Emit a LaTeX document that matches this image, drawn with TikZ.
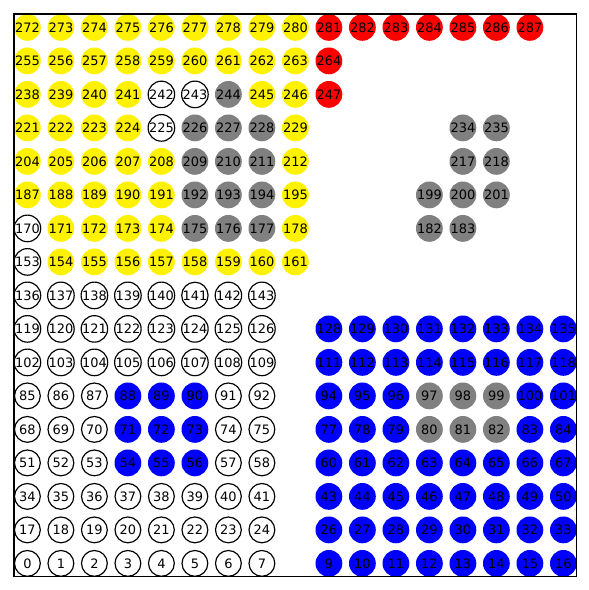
\documentclass[tikz,border=0pt]{standalone}
\usepackage{fontspec}
\setmainfont{DejaVu Sans}
\definecolor{mplgray}{HTML}{808080}
\begin{document}
\begin{tikzpicture}[x=1cm,y=1cm,
  cell/.style={circle,minimum size=0.8cm,inner sep=0pt,text=black,font=\fontsize{11}{13}\selectfont},
  wc/.style={cell,draw=black,line width=1pt,fill=white,minimum size=0.77cm},
  yc/.style={cell,fill=yellow},
  gc/.style={cell,fill=mplgray},
  rc/.style={cell,fill=red},
  bc/.style={cell,fill=blue},
  frame/.style={draw=black,line width=0.9pt}]
\useasboundingbox (-0.818,-0.794) rectangle (16.764,16.818);
\newcommand{\cellrow}[2]{%
  \foreach \n in {#2} {%
    \pgfmathtruncatemacro{\cc}{mod(\n,17)}%
    \pgfmathtruncatemacro{\rr}{div(\n,17)}%
    \node[#1] (c\n) at (\cc,\rr) {\n};
  }}
\cellrow{wc}{0,1,2,3,4,5,6,7,17,18,19,20,21,22,23,24,34,35,36,37,38,39,40,41,51,52,53,57,58,68,69,70,74,75,85,86,87,91,92,102,103,104,105,106,107,108,109,119,120,121,122,123,124,125,126,136,137,138,139,140,141,142,143,153,170,225,242,243}
\cellrow{yc}{154,155,156,157,158,159,160,161,171,172,173,174,178,187,188,189,190,191,195,204,205,206,207,208,212,221,222,223,224,229,238,239,240,241,245,246,255,256,257,258,259,260,261,262,263,272,273,274,275,276,277,278,279,280}
\cellrow{gc}{80,81,82,97,98,99,175,176,177,182,183,192,193,194,199,200,201,209,210,211,217,218,226,227,228,234,235,244}
\cellrow{rc}{247,264,281,282,283,284,285,286,287}
\cellrow{bc}{9,10,11,12,13,14,15,16,26,27,28,29,30,31,32,33,43,44,45,46,47,48,49,50,54,55,56,60,61,62,63,64,65,66,67,71,72,73,77,78,79,83,84,88,89,90,94,95,96,100,101,111,112,113,114,115,116,117,118,128,129,130,131,132,133,134,135}
\node[frame,rectangle,minimum width=16.8cm,minimum height=16.8cm,inner sep=0pt] (axes) at (8,8) {};
\end{tikzpicture}
\end{document}
